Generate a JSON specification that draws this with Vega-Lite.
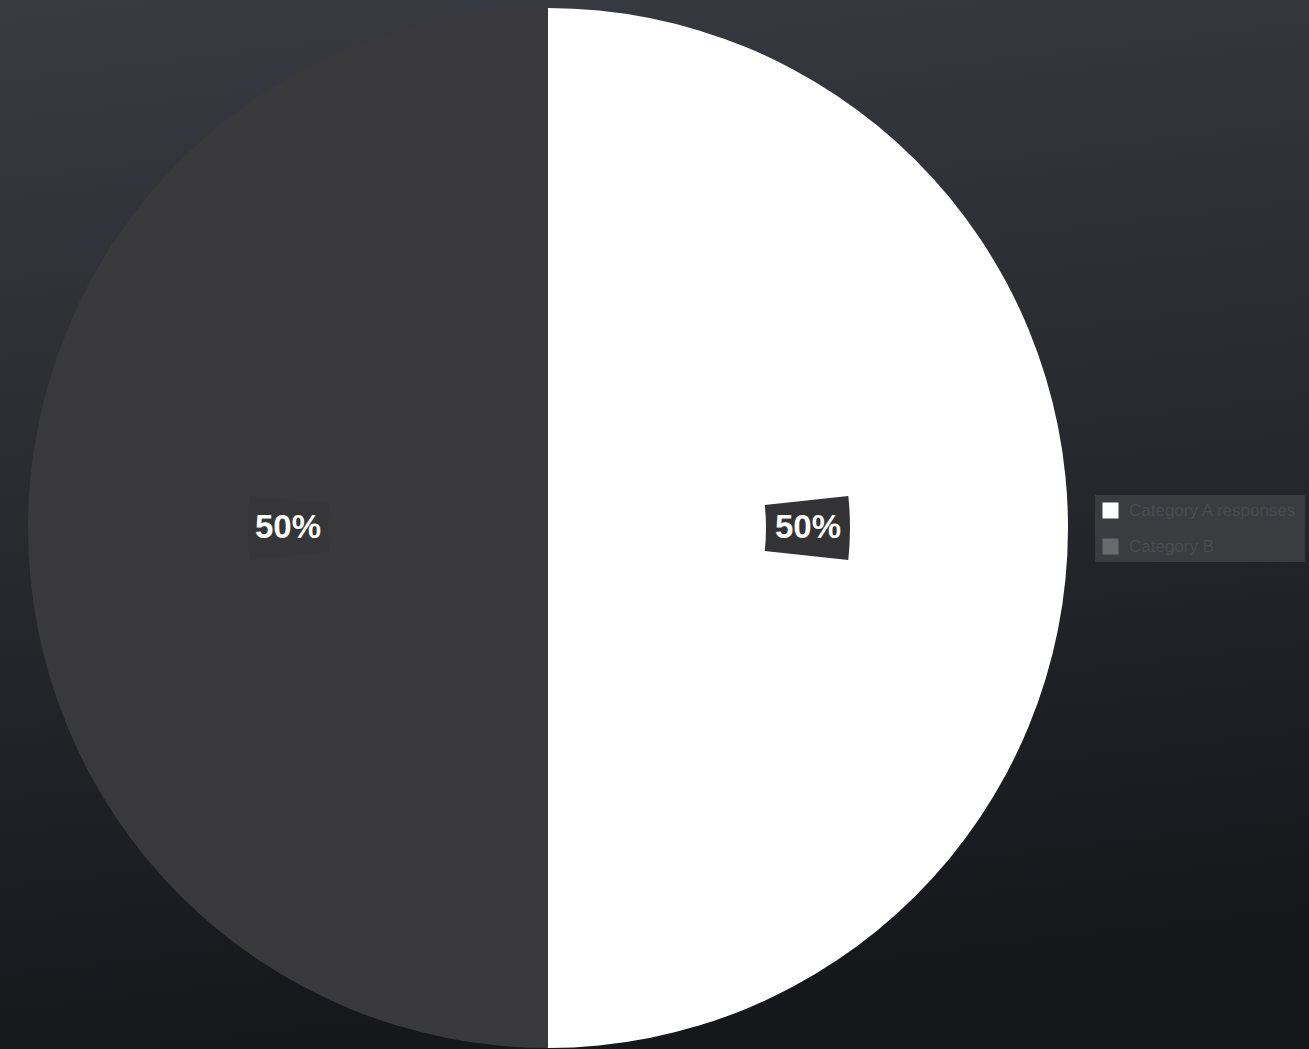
{
  "$schema": "https://vega.github.io/schema/vega-lite/v6.json",
  "width": 1309,
  "height": 1049,
  "padding": 0,
  "autosize": {"type": "fit", "contains": "padding"},
  "background": "#26282d",
  "config": {"view": {"stroke": null}},
  "resolve": {"scale": {"color": "independent"}, "legend": {"color": "independent"}},
  "layer": [
    {
      "data": {"values": [{"bg": 1}]},
      "mark": {"type": "rect", "color": {"gradient": "linear", "x1": 0, "y1": 0, "x2": 0.15, "y2": 1,
        "stops": [{"offset": 0, "color": "#383b42"}, {"offset": 0.5, "color": "#282a2f"}, {"offset": 1, "color": "#15171b"}]}},
      "encoding": {}
    },
    {
      "data": {"values": [
        {"category": "Category A responses", "share": 50},
        {"category": "Category B", "share": 50}
      ]},
      "mark": {"type": "arc", "outerRadius": 520, "x": 548, "y": 528, "stroke": null},
      "encoding": {
        "theta": {"field": "share", "type": "quantitative", "stack": true},
        "order": {"field": "category", "sort": "ascending"},
        "color": {
          "field": "category", "type": "nominal",
          "scale": {"domain": ["Category A responses", "Category B"], "range": ["#ffffff", "#39393b"]},
          "legend": null
        }
      }
    },
    {
      "data": {"values": [
        {"category": "Category A responses", "share": 50},
        {"category": "Category B", "share": 50}
      ]},
      "mark": {"type": "arc", "outerRadius": 0, "innerRadius": 0, "x": 548, "y": 528, "stroke": null},
      "encoding": {
        "theta": {"field": "share", "type": "quantitative", "stack": true},
        "order": {"field": "category", "sort": "ascending"},
        "color": {
          "field": "category", "type": "nominal",
          "scale": {"domain": ["Category A responses", "Category B"], "range": ["#ffffff", "#6a6a6c"]},
          "legend": {
            "orient": "none", "legendX": 1095, "legendY": 495, "title": null,
            "fillColor": "#3b3c40", "padding": 7, "symbolType": "square", "symbolSize": 256,
            "symbolStrokeWidth": 0, "labelColor": "#4a4b50", "labelFontSize": 17, "labelFont": "Liberation Sans",
            "labelLimit": 400, "rowPadding": 18, "labelOffset": 10
          }
        }
      }
    },
    {
      "data": {"values": [{"a": 1.465, "b": 1.677, "r1": 218, "r2": 302}]},
      "mark": {"type": "arc", "x": 548, "y": 528, "stroke": null, "color": "#333335"},
      "encoding": {
        "theta": {"field": "a", "type": "quantitative", "scale": null},
        "theta2": {"field": "b"},
        "radius": {"field": "r1", "type": "quantitative", "scale": null},
        "radius2": {"field": "r2"}
      }
    },
    {
      "data": {"values": [{"a": 4.605, "b": 4.82, "r1": 220, "r2": 300}]},
      "mark": {"type": "arc", "x": 548, "y": 528, "stroke": null, "color": "#363638"},
      "encoding": {
        "theta": {"field": "a", "type": "quantitative", "scale": null},
        "theta2": {"field": "b"},
        "radius": {"field": "r1", "type": "quantitative", "scale": null},
        "radius2": {"field": "r2"}
      }
    },
    {
      "data": {"values": [
        {"category": "Category A responses", "share": 50, "label": "50%"},
        {"category": "Category B", "share": 50, "label": "50%"}
      ]},
      "mark": {"type": "text", "x": 548, "y": 528, "radius": 260, "fontSize": 33, "fontWeight": "bold", "font": "Liberation Sans", "color": "#ffffff"},
      "encoding": {
        "theta": {"field": "share", "type": "quantitative", "stack": true},
        "order": {"field": "category", "sort": "ascending"},
        "text": {"field": "label"}
      }
    }
  ]
}
